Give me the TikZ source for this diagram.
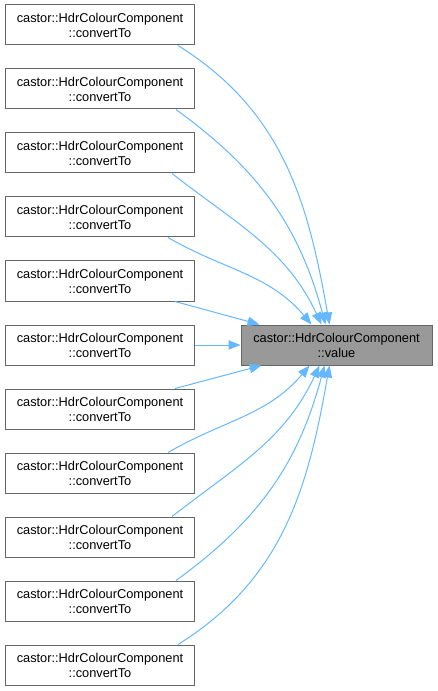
\documentclass[tikz,border=0pt]{standalone}
\usepackage{fontspec}
\setmainfont{Liberation Sans}
\usetikzlibrary{positioning, arrows.meta, calc}
\definecolor{edgeBlue}{RGB}{99,184,255}
\definecolor{boxGray}{RGB}{153,153,153}
\definecolor{lineGray}{RGB}{102,102,102}
\tikzset{
	callbox/.style={rectangle, draw=lineGray, fill=white, line width=0.75pt,
		minimum width=141.75pt, minimum height=30pt, inner sep=0pt,
		align=center, font=\fontsize{9.6}{11.25}\selectfont},
	callarr/.style={-{Triangle[length=9pt,width=7pt]}, draw=edgeBlue, line width=0.75pt}
}

\begin{document}
\begin{tikzpicture}[x=0.75pt, y=-0.75pt]
	\useasboundingbox (0,0) rectangle (437,691);
	% callers
	\foreach \i in {1,...,11}
		\node[callbox] (c\i) at (100, {25+64*(\i-1)}) {castor::HdrColourComponent\\::convertTo};
	% called function
	\node[callbox, fill=boxGray, minimum width=143.25pt] (val) at (336.5,345) {castor::HdrColourComponent\\::value};
	% upper edges
	\foreach \i/\dx/\ex/\o/\n in {1/78/89/-32/100, 2/76/85/-36/105, 3/72/81/-38/115, 4/68/71/-30/130}
		\draw[callarr] ($(c\i.south)+(\dx,0)$) to[out=\o, in=\n] ($(val.north west)+(\ex,0)$);
	\draw[callarr] ($(c5.south)+(75,0)$) -- ($(val.north west)+(19,0)$);
	\draw[callarr] (c6) -- (val);
	\draw[callarr] ($(c7.north)+(75,0)$) -- ($(val.south west)+(21,0)$);
	% lower edges
	\foreach \i/\dx/\ex/\o/\n in {8/68/69/30/-130, 9/72/79/38/-115, 10/76/84/36/-105, 11/78/89/32/-100}
		\draw[callarr] ($(c\i.north)+(\dx,0)$) to[out=\o, in=\n] ($(val.south west)+(\ex,0)$);
\end{tikzpicture}
\end{document}
